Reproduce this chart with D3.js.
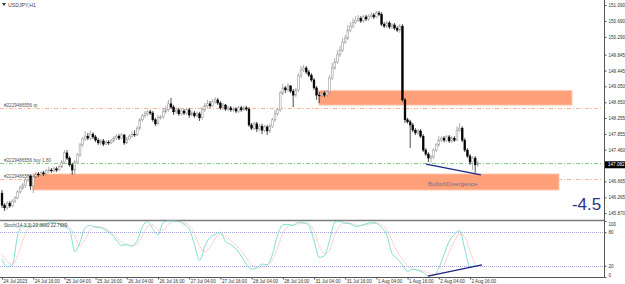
<!DOCTYPE html>
<html>
<head>
<meta charset="utf-8">
<script src="https://cdn.jsdelivr.net/npm/d3@7"></script>
<style>
html, body { margin: 0; padding: 0; background: #fff; }
svg { display: block; font-family: "Liberation Sans", Arial, sans-serif; }
</style>
</head>
<body>
<div id="chart"></div>
<script>
// USDJPY H1 bars (bar index = position on the chart)
var opens = [
146.37,146.07,146.00,146.12,146.05,146.17,146.25,146.40,146.50,146.57,
146.70,146.80,146.55,146.78,146.85,146.83,146.88,146.85,146.93,146.95,
146.93,146.98,146.95,147.03,147.15,147.38,147.25,147.08,146.95,147.15,
147.33,147.58,147.73,147.80,147.75,147.85,147.78,147.70,147.63,147.68,
147.60,147.65,147.63,147.68,147.75,147.80,147.75,147.83,147.63,147.73,
147.80,147.85,147.83,148.00,148.21,148.31,148.36,148.41,148.38,148.21,
148.11,148.26,148.28,148.41,148.46,148.61,148.53,148.41,148.46,148.36,
148.43,148.38,148.46,148.33,148.38,148.31,148.36,148.26,148.46,148.56,
148.61,148.56,148.66,148.71,148.63,148.51,148.58,148.48,148.51,148.46,
148.48,148.43,148.51,148.46,148.51,148.48,148.08,148.00,148.11,147.98,
148.05,147.95,148.03,147.93,148.05,148.21,148.36,148.46,148.88,149.01,
148.96,149.06,148.93,148.83,148.96,149.31,149.46,149.51,149.41,149.33,
149.21,149.01,148.83,148.81,148.88,148.83,148.91,149.26,149.51,149.66,
149.84,149.96,150.16,150.26,150.46,150.56,150.66,150.71,150.76,150.69,
150.79,150.74,150.81,150.84,150.79,150.89,150.86,150.61,150.56,150.64,
150.54,150.59,150.51,150.46,150.56,148.71,148.21,148.16,148.08,147.95,
147.88,147.93,147.80,147.45,147.35,147.25,147.28,147.45,147.58,147.70,
147.75,147.70,147.78,147.68,147.75,147.70,147.95,148.00,147.70,147.45,
147.30,147.15,147.25,147.08];
var highs = [
146.45,146.12,146.17,146.17,146.22,146.30,146.45,146.55,146.63,146.75,
146.85,146.83,146.80,146.90,146.90,146.93,146.93,146.98,147.03,147.00,
147.03,147.03,147.08,147.20,147.45,147.45,147.30,147.13,147.20,147.38,
147.63,147.78,147.93,147.88,147.95,147.90,147.83,147.75,147.73,147.73,
147.70,147.70,147.73,147.80,147.85,147.85,147.88,147.85,147.78,147.85,
147.93,147.95,148.05,148.26,148.36,148.43,148.46,148.46,148.43,148.26,
148.33,148.33,148.51,148.56,148.71,148.76,148.58,148.53,148.51,148.48,
148.48,148.51,148.51,148.43,148.43,148.41,148.41,148.53,148.63,148.71,
148.68,148.73,148.78,148.76,148.68,148.63,148.61,148.56,148.56,148.53,
148.53,148.56,148.56,148.56,148.56,148.53,148.13,148.16,148.16,148.11,
148.11,148.08,148.08,148.11,148.26,148.46,148.51,148.93,149.11,149.06,
149.13,149.08,148.98,149.01,149.38,149.56,149.59,149.56,149.46,149.38,
149.26,149.06,148.91,148.93,148.93,148.96,149.33,149.64,149.76,149.96,
150.06,150.26,150.34,150.59,150.66,150.76,150.81,150.84,150.81,150.84,
150.84,150.86,150.91,150.89,150.94,150.94,150.91,150.66,150.69,150.69,
150.64,150.64,150.56,150.61,150.61,148.76,148.26,148.21,148.13,148.00,
147.98,147.98,147.85,147.50,147.40,147.33,147.50,147.63,147.80,147.80,
147.80,147.83,147.83,147.80,147.80,148.05,148.13,148.05,147.75,147.50,
147.35,147.30,147.30,147.18];
var lows = [
146.00,145.92,145.95,146.00,146.02,146.12,146.22,146.35,146.45,146.50,
146.65,146.45,146.37,146.75,146.78,146.80,146.80,146.83,146.88,146.88,
146.90,146.90,146.93,147.00,147.13,147.20,147.03,146.83,146.83,147.10,
147.28,147.53,147.68,147.70,147.70,147.73,147.65,147.58,147.58,147.55,
147.58,147.58,147.60,147.65,147.70,147.70,147.73,147.58,147.60,147.70,
147.75,147.78,147.80,147.95,148.16,148.26,148.31,148.33,148.16,148.05,
148.08,148.21,148.23,148.36,148.41,148.48,148.33,148.36,148.31,148.31,
148.33,148.33,148.26,148.31,148.26,148.28,148.18,148.21,148.41,148.51,
148.51,148.53,148.61,148.58,148.46,148.46,148.43,148.43,148.41,148.41,
148.38,148.38,148.41,148.43,148.43,148.03,147.95,147.95,147.90,147.93,
147.85,147.90,147.83,147.88,148.00,148.16,148.31,148.41,148.83,148.88,
148.91,148.88,148.53,148.78,148.91,149.26,149.41,149.36,149.28,149.16,
148.96,148.71,148.63,148.76,148.78,148.78,148.86,149.21,149.46,149.61,
149.79,149.91,150.11,150.21,150.41,150.51,150.61,150.66,150.64,150.64,
150.69,150.69,150.76,150.74,150.76,150.81,150.56,150.51,150.51,150.49,
150.49,150.46,150.41,150.39,148.66,148.13,148.11,147.50,147.90,147.83,
147.83,147.75,147.40,147.30,147.15,147.13,147.23,147.40,147.53,147.65,
147.65,147.65,147.63,147.63,147.65,147.68,147.90,147.65,147.40,147.25,
147.08,146.95,146.88,147.03];
var closes = [
146.07,146.00,146.12,146.05,146.17,146.25,146.40,146.50,146.57,146.70,
146.80,146.55,146.78,146.85,146.83,146.88,146.85,146.93,146.95,146.93,
146.98,146.95,147.03,147.15,147.38,147.25,147.08,146.95,147.15,147.33,
147.58,147.73,147.80,147.75,147.85,147.78,147.70,147.63,147.68,147.60,
147.65,147.63,147.68,147.75,147.80,147.75,147.83,147.63,147.73,147.80,
147.85,147.83,148.00,148.21,148.31,148.36,148.41,148.38,148.21,148.11,
148.26,148.28,148.41,148.46,148.61,148.53,148.41,148.46,148.36,148.43,
148.38,148.46,148.33,148.38,148.31,148.36,148.26,148.46,148.56,148.61,
148.56,148.66,148.71,148.63,148.51,148.58,148.48,148.51,148.46,148.48,
148.43,148.51,148.46,148.51,148.48,148.08,148.00,148.11,147.98,148.05,
147.95,148.03,147.93,148.05,148.21,148.36,148.46,148.88,149.01,148.96,
149.06,148.93,148.83,148.96,149.31,149.46,149.51,149.41,149.33,149.21,
149.01,148.83,148.81,148.88,148.83,148.91,149.26,149.51,149.66,149.84,
149.96,150.16,150.26,150.46,150.56,150.66,150.71,150.76,150.69,150.79,
150.74,150.81,150.84,150.79,150.89,150.86,150.61,150.56,150.64,150.54,
150.59,150.51,150.46,150.56,148.71,148.21,148.16,148.08,147.95,147.88,
147.93,147.80,147.45,147.35,147.25,147.28,147.45,147.58,147.70,147.75,
147.70,147.78,147.68,147.75,147.70,147.95,148.00,147.70,147.45,147.30,
147.15,147.25,147.08,147.13];

// Stochastic (14,3,3), one reading every second bar
var stochMain = [32,18,22,74,92,90,92,94,92,97, 98,94,90,85,45,62,88,92,89,88,
  83,77,66,56,58,55,65,90,99,86, 75,97,100,100,99,94,86,58,30,55,
  71,76,80,63,58,50,38,22,14,16, 23,22,40,75,93,94,92,98,97,92,
  65,35,38,65,98,99,96,95,90,92, 95,97,96,88,75,42,33,22,10,14,
  12,8,2,3,16,40,64,76,83,50, 18,21];
var stochSignal = [40,28,22,38,65,85,91,92,93,94, 96,96,93,89,72,55,68,84,90,89,
  86,80,72,62,58,56,59,74,90,93, 84,84,94,99,99,97,92,78,55,45,
  54,68,77,72,65,56,47,34,22,17, 18,21,30,52,78,90,93,95,96,95,
  82,56,42,48,75,92,97,96,93,92, 93,95,96,93,84,65,46,32,20,15,
  12,11,7,4,8,22,44,64,77,72, 46,23];
var stochLevels = [80, 20];

// axes
var priceTicks = [151.090,150.690,150.290,149.845,149.445,149.050,148.650,148.255,147.855,147.460,147.060,146.665,146.265,145.870];
var stochTicks = [100, 80, 20, 0];
var timeTickBars = [0,12,24,36,48,60,72,84,96,108,120,132,144,156,168,180];
var timeLabels = ["24 Jul 2023","24 Jul 16:00","25 Jul 04:00","25 Jul 16:00","26 Jul 04:00","26 Jul 16:00",
  "27 Jul 04:00","27 Jul 16:00","28 Jul 04:00","28 Jul 16:00","31 Jul 04:00","31 Jul 16:00",
  "1 Aug 04:00","1 Aug 16:00","2 Aug 04:00","2 Aug 16:00"];
var lastPrice = 147.082;

// order lines
var orderNames = ["#2229486556 tp", "#2229486556 buy 1.80", "#2229486556 sl"];
var orderPrices = [148.51, 147.13, 146.73];
var orderColors = ["#ffa07a", "#5fc45f", "#ffa07a"];

// zones: [from bar, to bar, top price, bottom price]
var zones = [[11.9, 214.2, 146.85, 146.45], [121.9, 219.2, 148.94, 148.58]];

// divergence lines: [bar, value]
var divPrice = [[163.1, 147.10], [184.2, 146.83]];
var divStoch = [[163.8, 1.5], [184.6, 21.5]];

var width = 625, height = 284;
var axisX = 604;          // price scale line
var mainBottom = 219;
var subTop = 221, subBottom = 277;

var svg = d3.select("#chart").append("svg")
    .attr("width", width)
    .attr("height", height);

var x = d3.scaleLinear().domain([0, 231]).range([2, 2 + 2.6 * 231]);
var y = d3.scaleLinear().domain([145.721, 151.216]).range([mainBottom, 0]);
var ys = d3.scaleLinear().domain([0, 100]).range([subBottom, subTop]);

// zones first, under everything
svg.append("g").selectAll("rect")
    .data(zones)
    .enter().append("rect")
    .attr("x", function (d) { return x(d[0]); })
    .attr("y", function (d) { return y(d[2]); })
    .attr("width", function (d) { return x(d[1]) - x(d[0]); })
    .attr("height", function (d) { return y(d[3]) - y(d[2]); })
    .attr("fill", "#ffa07a")
    .attr("stroke", "#ffc2a6")
    .attr("stroke-width", 1);

// order lines + labels
var orders = svg.append("g");
orderPrices.forEach(function (p, i) {
    orders.append("line")
        .attr("x1", 0).attr("x2", axisX - 2)
        .attr("y1", Math.round(y(p)) + 0.5).attr("y2", Math.round(y(p)) + 0.5)
        .attr("stroke", orderColors[i])
        .attr("stroke-width", 0.8)
        .attr("stroke-dasharray", "4,2,1,2");
    orders.append("text")
        .attr("x", 4).attr("y", Math.round(y(p)) - 1.5)
        .attr("font-size", 4.6)
        .attr("fill", "#555")
        .text(orderNames[i]);
});

// candles
var bars = d3.range(closes.length);
var candles = svg.append("g");
candles.selectAll("line")
    .data(bars)
    .enter().append("line")
    .attr("x1", function (i) { return x(i); })
    .attr("x2", function (i) { return x(i); })
    .attr("y1", function (i) { return y(highs[i]); })
    .attr("y2", function (i) { return y(lows[i]); })
    .attr("stroke", function (i) { return closes[i] >= opens[i] ? "#8c8c8c" : "#000"; })
    .attr("stroke-width", 0.7);
candles.selectAll("rect")
    .data(bars)
    .enter().append("rect")
    .attr("x", function (i) { return x(i) - 0.9; })
    .attr("width", 1.8)
    .attr("y", function (i) { return y(Math.max(opens[i], closes[i])); })
    .attr("height", function (i) { return Math.max(0.6, Math.abs(y(opens[i]) - y(closes[i]))); })
    .attr("fill", function (i) { return closes[i] >= opens[i] ? "#fff" : "#000"; })
    .attr("stroke", function (i) { return closes[i] >= opens[i] ? "#8c8c8c" : "#000"; })
    .attr("stroke-width", 0.5);

// divergence on price
svg.append("line")
    .attr("x1", x(divPrice[0][0])).attr("y1", y(divPrice[0][1]))
    .attr("x2", x(divPrice[1][0])).attr("y2", y(divPrice[1][1]))
    .attr("stroke", "#1c2480").attr("stroke-width", 1.2);

svg.append("text")
    .attr("x", x(163.8)).attr("y", y(146.56))
    .attr("font-size", 6.2)
    .attr("fill", "#6e7096")
    .text("BullishDivergence");

svg.append("text")
    .attr("x", x(219.2)).attr("y", y(145.95))
    .attr("font-size", 17)
    .attr("fill", "#27338a")
    .text("-4.5");

// title
svg.append("path").attr("d", "M2,3 L6,3 L4,6 Z").attr("fill", "#333");
svg.append("text")
    .attr("x", 8).attr("y", 6.5)
    .attr("font-size", 5.2)
    .attr("fill", "#444")
    .text("USDJPY,H1");

// price axis
svg.append("line")
    .attr("x1", axisX + 0.5).attr("x2", axisX + 0.5)
    .attr("y1", 0).attr("y2", subBottom)
    .attr("stroke", "#555").attr("stroke-width", 1);

var pAxis = svg.append("g")
    .attr("transform", "translate(" + (axisX + 0.5) + ",0)")
    .call(d3.axisRight(y).tickValues(priceTicks).tickSize(2).tickFormat(d3.format(".3f")));
pAxis.select(".domain").remove();
pAxis.selectAll("text").attr("font-size", 4.6).attr("fill", "#333").attr("x", 4);
pAxis.selectAll("line").attr("stroke", "#555");

// last price box
svg.append("rect")
    .attr("x", axisX + 1).attr("y", y(lastPrice) - 3.5)
    .attr("width", width - axisX - 1).attr("height", 7)
    .attr("fill", "#000");
svg.append("text")
    .attr("x", axisX + 4).attr("y", y(lastPrice) + 1.7)
    .attr("font-size", 4.6).attr("fill", "#fff")
    .text(d3.format(".3f")(lastPrice));

// separator between windows
svg.append("line")
    .attr("x1", 0).attr("x2", axisX)
    .attr("y1", 220.5).attr("y2", 220.5)
    .attr("stroke", "#7a7a7a").attr("stroke-width", 1.6);

// stochastic window
svg.append("g").selectAll("line")
    .data(stochLevels)
    .enter().append("line")
    .attr("x1", 0).attr("x2", axisX)
    .attr("y1", function (d) { return Math.round(ys(d)) + 0.5; })
    .attr("y2", function (d) { return Math.round(ys(d)) + 0.5; })
    .attr("stroke", "#8f8fc8")
    .attr("stroke-width", 0.8)
    .attr("stroke-dasharray", "1,1");

var stochLine = d3.line()
    .x(function (d, k) { return x(2 * k); })
    .y(function (d) { return ys(d); })
    .curve(d3.curveMonotoneX);

svg.append("path")
    .attr("d", stochLine(stochSignal))
    .attr("fill", "none")
    .attr("stroke", "#ff9e9e")
    .attr("stroke-width", 0.9)
    .attr("stroke-dasharray", "1,1");
svg.append("path")
    .attr("d", stochLine(stochMain))
    .attr("fill", "none")
    .attr("stroke", "#6fdad0")
    .attr("stroke-width", 0.9);

svg.append("line")
    .attr("x1", x(divStoch[0][0])).attr("y1", ys(divStoch[0][1]))
    .attr("x2", x(divStoch[1][0])).attr("y2", ys(divStoch[1][1]))
    .attr("stroke", "#1c2480").attr("stroke-width", 1.2);

svg.append("text")
    .attr("x", 4).attr("y", 226.5)
    .attr("font-size", 4.6)
    .attr("fill", "#444")
    .text("Stoch(14,3,3) 22.3692 22.7689");

var sAxis = svg.append("g")
    .attr("transform", "translate(" + (axisX + 0.5) + ",0)")
    .call(d3.axisRight(ys).tickValues(stochTicks).tickSize(2));
sAxis.select(".domain").remove();
sAxis.selectAll("text").attr("font-size", 4.6).attr("fill", "#333").attr("x", 4)
    .attr("dy", function (d) { return d === 100 ? "0.9em" : d === 0 ? "-0.1em" : "0.32em"; });
sAxis.selectAll("line").attr("stroke", "#555");

// time axis
svg.append("line")
    .attr("x1", 0).attr("x2", axisX + 1)
    .attr("y1", subBottom + 0.5).attr("y2", subBottom + 0.5)
    .attr("stroke", "#555").attr("stroke-width", 1);

var tAxis = svg.append("g")
    .attr("transform", "translate(0," + (subBottom + 0.5) + ")")
    .call(d3.axisBottom(x).tickValues(timeTickBars).tickSize(2)
        .tickFormat(function (d, i) { return timeLabels[i]; }));
tAxis.select(".domain").remove();
tAxis.selectAll("line").attr("stroke", "#555");
tAxis.selectAll("text")
    .attr("font-size", 4.6)
    .attr("fill", "#333")
    .attr("text-anchor", "start")
    .attr("x", 1)
    .attr("y", 2)
    .attr("dy", "0.71em");
</script>
</body>
</html>
